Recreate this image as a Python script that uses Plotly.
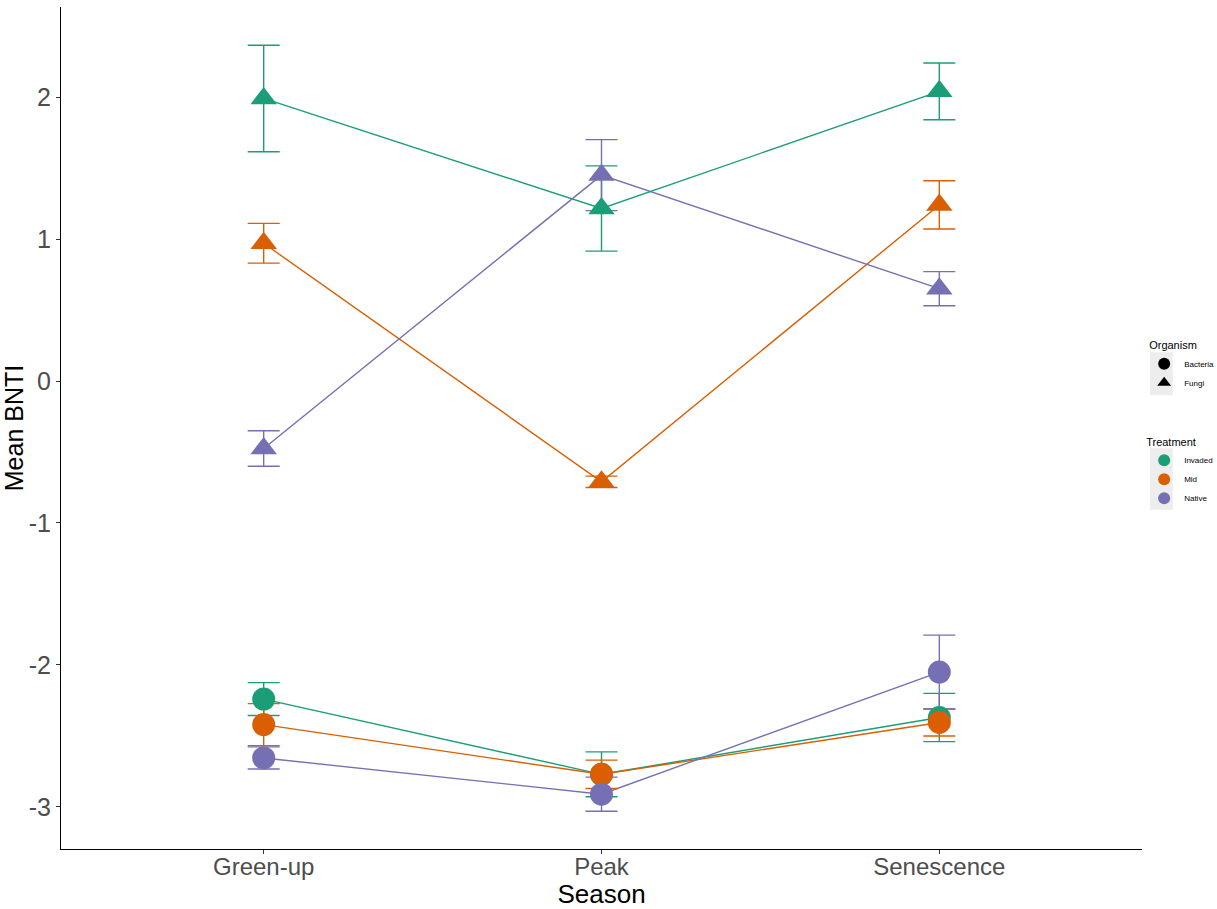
import plotly.graph_objects as go

# Seasons on the x axis
seasons = ["Green-up", "Peak", "Senescence"]
treatments = ["Invaded", "Mid", "Native"]
organisms = ["Bacteria", "Fungi"]

# Mean BNTI and standard error per organism / treatment across seasons
fungi_invaded = [1.99, 1.215, 2.04]
fungi_invaded_se = [0.375, 0.30, 0.20]
fungi_mid = [0.97, -0.71, 1.24]
fungi_mid_se = [0.14, 0.04, 0.17]
fungi_native = [-0.475, 1.45, 0.65]
fungi_native_se = [0.125, 0.25, 0.12]

bacteria_invaded = [-2.24, -2.77, -2.37]
bacteria_invaded_se = [0.116, 0.158, 0.17]
bacteria_mid = [-2.42, -2.77, -2.405]
bacteria_mid_se = [0.148, 0.10, 0.095]
bacteria_native = [-2.655, -2.91, -2.05]
bacteria_native_se = [0.078, 0.12, 0.26]

colors = {"Invaded": "#1B9E77", "Mid": "#D95F02", "Native": "#7570B3"}
symbols = {"Bacteria": "circle", "Fungi": "triangle-up"}

series = [
    ("Bacteria", "Invaded", bacteria_invaded, bacteria_invaded_se),
    ("Bacteria", "Mid", bacteria_mid, bacteria_mid_se),
    ("Bacteria", "Native", bacteria_native, bacteria_native_se),
    ("Fungi", "Invaded", fungi_invaded, fungi_invaded_se),
    ("Fungi", "Mid", fungi_mid, fungi_mid_se),
    ("Fungi", "Native", fungi_native, fungi_native_se),
]

FONT = "Liberation Sans, Arial, sans-serif"

fig = go.Figure()

# connecting lines
for org, trt, y, se in series:
    fig.add_trace(go.Scatter(
        x=seasons, y=y, mode="lines",
        line=dict(color=colors[trt], width=1.4),
        showlegend=False, hoverinfo="skip",
    ))

# error bars
for org, trt, y, se in series:
    fig.add_trace(go.Scatter(
        x=seasons, y=y, mode="markers",
        marker=dict(size=1, opacity=0),
        error_y=dict(type="data", array=se, symmetric=True,
                     color=colors[trt], thickness=1.4, width=16),
        showlegend=False, hoverinfo="skip",
    ))

# points
for org, trt, y, se in series:
    fig.add_trace(go.Scatter(
        x=seasons, y=y, mode="markers",
        marker=dict(symbol=symbols[org], size=23, color=colors[trt],
                    line=dict(width=0)),
        name=f"{org} - {trt}", showlegend=False,
    ))

# legend: Organism
for org in organisms:
    fig.add_trace(go.Scatter(
        x=[None], y=[None], mode="markers",
        marker=dict(symbol=symbols[org], size=16, color="black"),
        name=org, legend="legend", legendgroup="org",
        legendgrouptitle=dict(text="Organism") if org == organisms[0] else None,
    ))

# legend: Treatment
for trt in treatments:
    fig.add_trace(go.Scatter(
        x=[None], y=[None], mode="markers",
        marker=dict(symbol="circle", size=16, color=colors[trt]),
        name=trt, legend="legend2",
    ))

axis_common = dict(
    showgrid=False, zeroline=False, showline=True,
    linecolor="black", linewidth=1,
    ticks="outside", ticklen=4, tickcolor="#333333",
)

# grey panels behind the legend keys
key_panels = [
    dict(x0=1.0075, x1=1.0285, y0=0.539, y1=0.590),
    dict(x0=1.0075, x1=1.0285, y0=0.403, y1=0.476),
]
shapes = [
    dict(type="rect", xref="paper", yref="paper", layer="below",
         fillcolor="#EDEDED", line=dict(width=0), **p)
    for p in key_panels
]

fig.update_layout(
    width=1217, height=909,
    margin=dict(l=61, r=75, t=7, b=60, autoexpand=False),
    plot_bgcolor="white", paper_bgcolor="white",
    shapes=shapes,
    xaxis=dict(
        **axis_common,
        type="category", categoryorder="array", categoryarray=seasons,
        range=[-0.6, 2.6],
        tickfont=dict(family=FONT, size=24, color="#4D4D4D"),
        ticklabelstandoff=-8,
        title=dict(text="Season", font=dict(family=FONT, size=26, color="black"),
                   standoff=12),
    ),
    yaxis=dict(
        **axis_common,
        range=[-3.296, 2.634],
        tickvals=[-3, -2, -1, 0, 1, 2],
        ticktext=["-3", "-2", "-1", "0", "1", "2"],
        tickfont=dict(family=FONT, size=25, color="#4D4D4D"),
        title=dict(text="Mean BNTI", font=dict(family=FONT, size=25, color="black"),
                   standoff=0),
    ),
    legend=dict(
        x=1.002, y=0.616, xanchor="left", yanchor="top",
        bgcolor="rgba(0,0,0,0)",
        font=dict(family=FONT, size=8, color="black"),
        grouptitlefont=dict(family=FONT, size=11, color="black"),
        itemsizing="constant", itemwidth=30,
    ),
    legend2=dict(
        x=1.002, y=0.496, xanchor="left", yanchor="top",
        bgcolor="rgba(0,0,0,0)",
        title=dict(text="Treatment", font=dict(family=FONT, size=11, color="black")),
        font=dict(family=FONT, size=8, color="black"),
        itemsizing="constant", itemwidth=30,
    ),
)

fig.write_html("out.html")
